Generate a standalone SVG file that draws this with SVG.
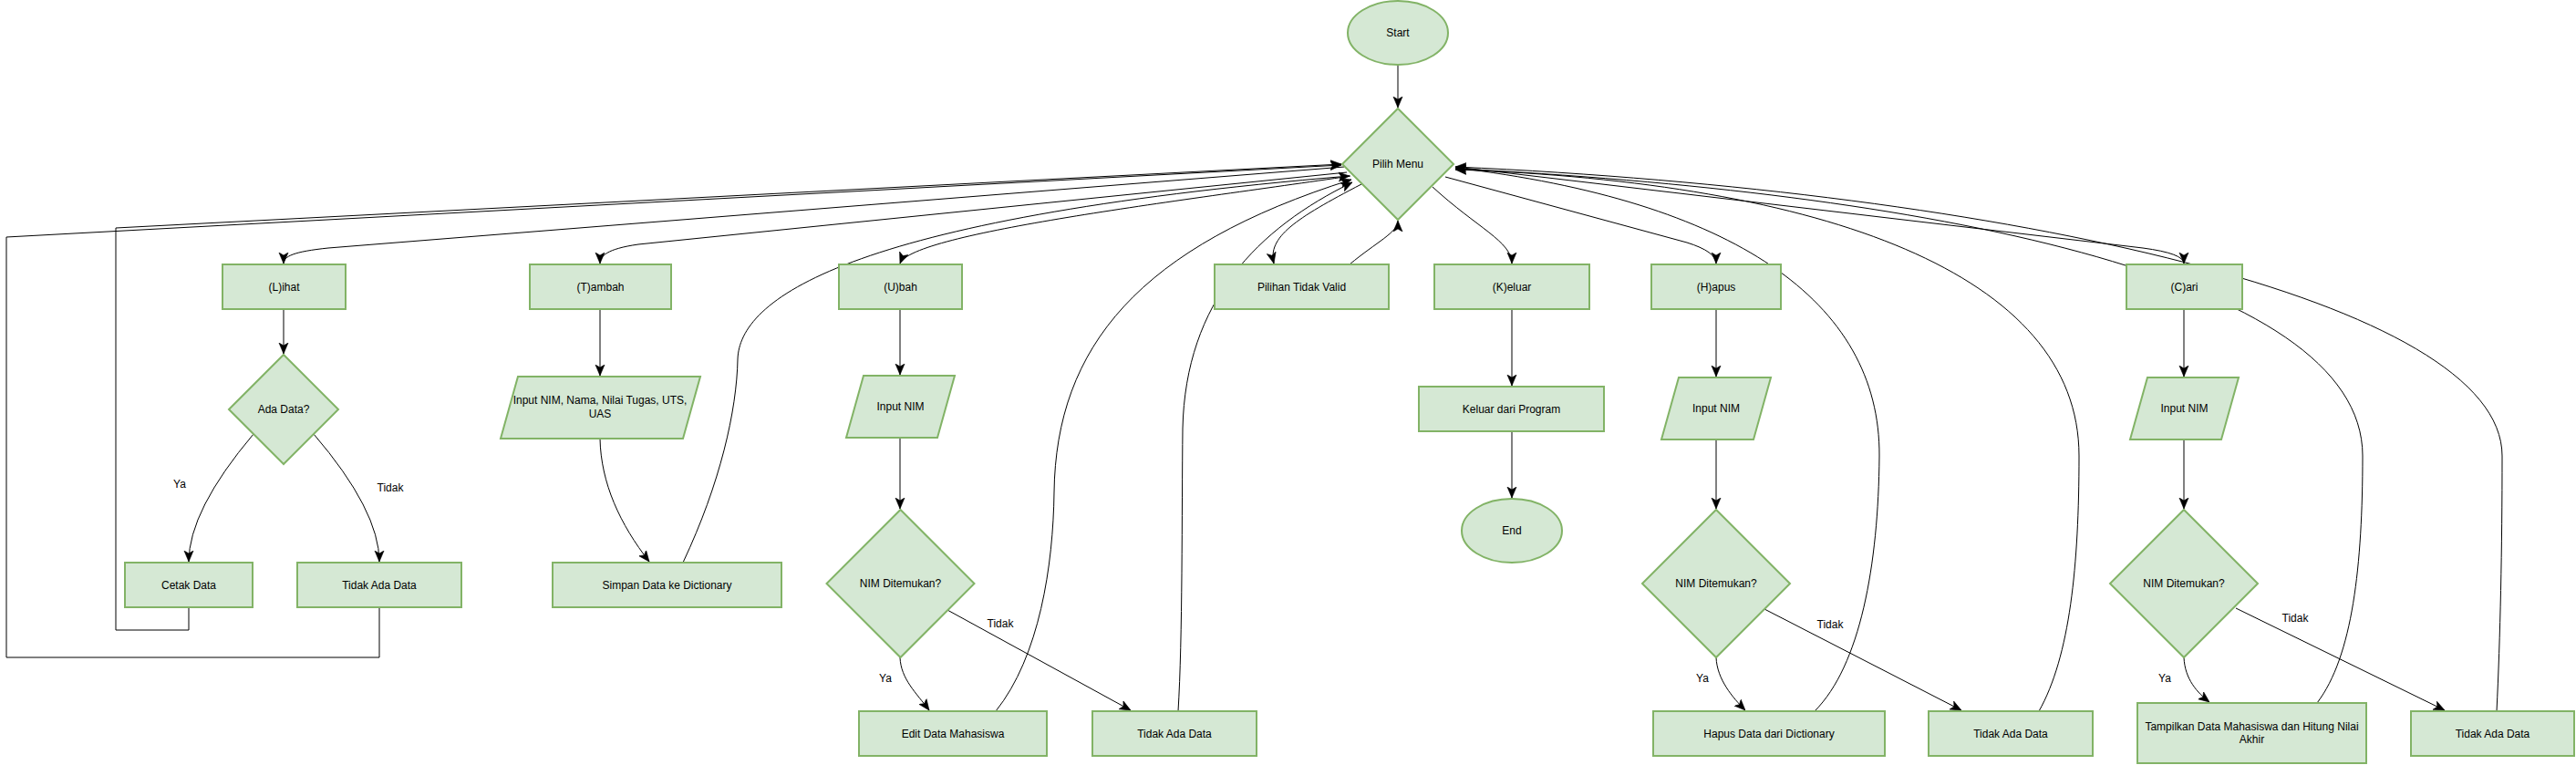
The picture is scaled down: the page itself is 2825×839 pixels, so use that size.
<svg xmlns="http://www.w3.org/2000/svg" width="2825" height="839" viewBox="0 0 2825 839">
<style>
.n{fill:#d5e8d4;stroke:#82b366;stroke-width:2}
.t{font-family:"Liberation Sans",Arial,sans-serif;font-size:12px;fill:#000;text-anchor:middle}
.e{fill:none;stroke:#000;stroke-width:1;marker-end:url(#a)}
.l{font-family:"Liberation Sans",Arial,sans-serif;font-size:12px;fill:#000;text-anchor:middle}
</style>
<defs>
<marker id="a" markerUnits="userSpaceOnUse" markerWidth="12" markerHeight="12" viewBox="0 0 10 10" refX="10" refY="5" orient="auto">
<path d="M0,0.8 L10,5 L0,9.2 L2.5,5 z" fill="#000" stroke="#000" stroke-width="0.5"/>
</marker>
</defs>
<rect width="2825" height="839" fill="#fff"/>
<g id="connectors">
<path class="e" d="M1533,71 L1533,118"/>
<path class="e" d="M1474,183 L360,272 C322,276 311,281 311,289"/>
<path class="e" d="M1477,189 L700,268 C665,273 658,281 658,289"/>
<path class="e" d="M1481,193 C1300,220 1000,255 987,289"/>
<path class="e" d="M1493,202 C1420,240 1390,260 1397,289"/>
<path class="e" d="M1480,290 C1510,265 1533,255 1533,242"/>
<path class="e" d="M1571,205 C1620,250 1658,265 1658,289"/>
<path class="e" d="M1585,194 L1850,266 Q1882,276 1882,289"/>
<path class="e" d="M1596,183 L2350,272 Q2395,278 2395,289"/>
<path class="e" d="M311,339 L311,388"/>
<path class="e" d="M278,476 Q207,560 207,616"/>
<path class="e" d="M344,476 Q416,560 416,616"/>
<path class="e" d="M207,666 L207,691 L127,691 L127,250 L1471,180"/>
<path class="e" d="M416,666 L416,721 L7,721 L7,260 L1471,181"/>
<path class="e" d="M658,339 L658,412"/>
<path class="e" d="M658,481 C659,530 680,575 712,616"/>
<path class="e" d="M749,617 C790,530 808,450 809,394 C811,330 920,240 1480,193"/>
<path class="e" d="M987,339 L987,411"/>
<path class="e" d="M987,480 L987,558"/>
<path class="e" d="M987,721 C988,745 1005,760 1019,779"/>
<path class="e" d="M1039,669 L1240,779"/>
<path class="e" d="M1092,780 C1140,720 1155,620 1156,540 C1158,380 1250,270 1482,197"/>
<path class="e" d="M1292,780 C1297,700 1296,560 1297,470 C1300,330 1380,250 1483,200"/>
<path class="e" d="M1658,339 L1658,423"/>
<path class="e" d="M1658,473 L1658,546"/>
<path class="e" d="M1882,339 L1882,413"/>
<path class="e" d="M1882,482 L1882,558"/>
<path class="e" d="M1882,721 C1883,745 1900,765 1914,779"/>
<path class="e" d="M1935,668 L2151,779"/>
<path class="e" d="M1990,780 C2040,730 2060,620 2061,500 C2062,330 1900,220 1596,184"/>
<path class="e" d="M2236,780 C2270,720 2280,620 2280,500 C2280,300 2000,200 1596,186"/>
<path class="e" d="M2395,339 L2395,413"/>
<path class="e" d="M2395,482 L2395,558"/>
<path class="e" d="M2395,721 C2396,745 2410,760 2423,770"/>
<path class="e" d="M2452,667 L2681,779"/>
<path class="e" d="M2541,771 C2580,720 2591,620 2591,500 C2591,300 2100,210 1596,185"/>
<path class="e" d="M2738,780 C2742,700 2744,600 2744,500 C2744,330 2200,210 1596,183"/>
<text class="l" x="197" y="535">Ya</text>
<text class="l" x="428" y="539">Tidak</text>
<text class="l" x="1097" y="688">Tidak</text>
<text class="l" x="971" y="748">Ya</text>
<text class="l" x="2007" y="689">Tidak</text>
<text class="l" x="1867" y="748">Ya</text>
<text class="l" x="2517" y="682">Tidak</text>
<text class="l" x="2374" y="748">Ya</text>
</g>
<g id="start"><ellipse class="n" cx="1533" cy="36" rx="55" ry="35"/><text class="t" x="1533" y="40">Start</text></g>
<g id="pilih-menu"><polygon class="n" points="1533,119 1594,180 1533,241 1472,180"/><text class="t" x="1533" y="184">Pilih Menu</text></g>
<g id="lihat"><rect class="n" x="244" y="290" width="135" height="49"/><text class="t" x="311.5" y="318.5">(L)ihat</text></g>
<g id="tambah"><rect class="n" x="581" y="290" width="155" height="49"/><text class="t" x="658.5" y="318.5">(T)ambah</text></g>
<g id="ubah"><rect class="n" x="920" y="290" width="135" height="49"/><text class="t" x="987.5" y="318.5">(U)bah</text></g>
<g id="pilihan-tidak-valid"><rect class="n" x="1332" y="290" width="191" height="49"/><text class="t" x="1427.5" y="318.5">Pilihan Tidak Valid</text></g>
<g id="keluar"><rect class="n" x="1573" y="290" width="170" height="49"/><text class="t" x="1658" y="318.5">(K)eluar</text></g>
<g id="hapus"><rect class="n" x="1811" y="290" width="142" height="49"/><text class="t" x="1882" y="318.5">(H)apus</text></g>
<g id="cari"><rect class="n" x="2332" y="290" width="127" height="49"/><text class="t" x="2395.5" y="318.5">(C)ari</text></g>
<g id="ada-data"><polygon class="n" points="311,389 371,449 311,509 251,449"/><text class="t" x="311" y="453">Ada Data?</text></g>
<g id="input-tambah"><polygon class="n" points="568,413 768,413 749,481 549,481"/><text class="t" x="658" y="443">Input NIM, Nama, Nilai Tugas, UTS,</text><text class="t" x="658" y="458">UAS</text></g>
<g id="input-ubah"><polygon class="n" points="947,412 1047,412 1028,480 928,480"/><text class="t" x="987.5" y="450">Input NIM</text></g>
<g id="keluar-program"><rect class="n" x="1556" y="424" width="203" height="49"/><text class="t" x="1657.5" y="452.5">Keluar dari Program</text></g>
<g id="input-hapus"><polygon class="n" points="1841,414 1942,414 1923,482 1822,482"/><text class="t" x="1882" y="452">Input NIM</text></g>
<g id="input-cari"><polygon class="n" points="2355,414 2455,414 2436,482 2336,482"/><text class="t" x="2395.5" y="452">Input NIM</text></g>
<g id="end"><ellipse class="n" cx="1658" cy="582" rx="55" ry="35"/><text class="t" x="1658" y="586">End</text></g>
<g id="nim-ubah"><polygon class="n" points="987.5,559 1068.5,640 987.5,721 906.5,640"/><text class="t" x="987.5" y="644">NIM Ditemukan?</text></g>
<g id="nim-hapus"><polygon class="n" points="1882,559 1963,640 1882,721 1801,640"/><text class="t" x="1882" y="644">NIM Ditemukan?</text></g>
<g id="nim-cari"><polygon class="n" points="2395,559 2476,640 2395,721 2314,640"/><text class="t" x="2395" y="644">NIM Ditemukan?</text></g>
<g id="cetak-data"><rect class="n" x="137" y="617" width="140" height="49"/><text class="t" x="207" y="645.5">Cetak Data</text></g>
<g id="tidak-ada-lihat"><rect class="n" x="326" y="617" width="180" height="49"/><text class="t" x="416" y="645.5">Tidak Ada Data</text></g>
<g id="simpan"><rect class="n" x="606" y="617" width="251" height="49"/><text class="t" x="731.5" y="645.5">Simpan Data ke Dictionary</text></g>
<g id="edit"><rect class="n" x="942" y="780" width="206" height="49"/><text class="t" x="1045" y="808.5">Edit Data Mahasiswa</text></g>
<g id="tidak-ada-ubah"><rect class="n" x="1198" y="780" width="180" height="49"/><text class="t" x="1288" y="808.5">Tidak Ada Data</text></g>
<g id="hapus-data"><rect class="n" x="1813" y="780" width="254" height="49"/><text class="t" x="1940" y="808.5">Hapus Data dari Dictionary</text></g>
<g id="tidak-ada-hapus"><rect class="n" x="2115" y="780" width="180" height="49"/><text class="t" x="2205" y="808.5">Tidak Ada Data</text></g>
<g id="tampilkan"><rect class="n" x="2344" y="771" width="251" height="66"/><text class="t" x="2469.5" y="801">Tampilkan Data Mahasiswa dan Hitung Nilai</text><text class="t" x="2469.5" y="815">Akhir</text></g>
<g id="tidak-ada-cari"><rect class="n" x="2644" y="780" width="179" height="49"/><text class="t" x="2733.5" y="808.5">Tidak Ada Data</text></g>
</svg>
